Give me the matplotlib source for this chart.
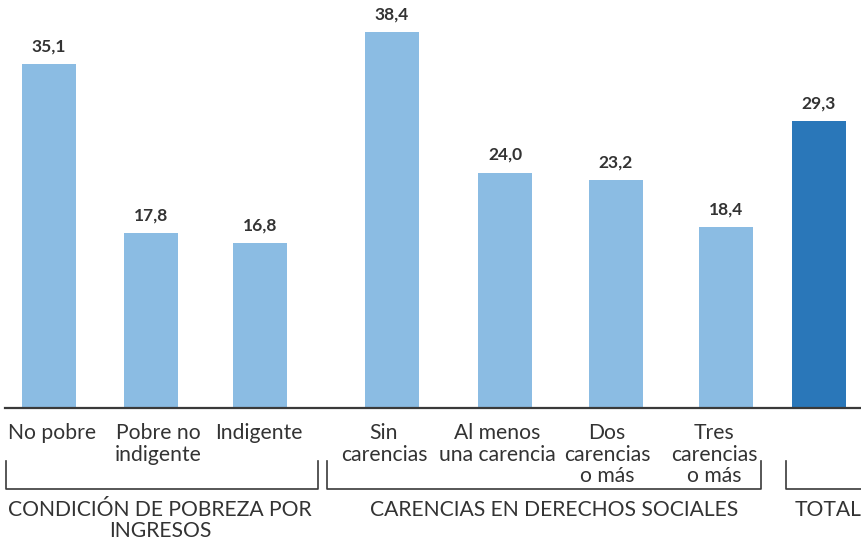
import matplotlib
matplotlib.use("Agg")
import matplotlib.pyplot as plt

categories = ["No pobre", "Pobre no\nindigente", "Indigente", "Sin\ncarencias",
              "Al menos\nuna carencia", "Dos\ncarencias\no más", "Tres\ncarencias\no más", ""]
values = [35.1, 17.8, 16.8, 38.4, 24.0, 23.2, 18.4, 29.3]
value_labels = ["35,1", "17,8", "16,8", "38,4", "24,0", "23,2", "18,4", "29,3"]
groups = ["CONDICIÓN DE POBREZA POR\nINGRESOS", "CARENCIAS EN DERECHOS SOCIALES", "TOTAL"]

# layout (pixel positions)
W, H = 862, 541
xpos = [49, 151, 260, 392, 505, 616, 726, 819]
label_x = [52, 158, 259, 384, 497, 607, 714, 819]
bar_w = 54
base_y = 407
px_per_unit = 9.766
group_spans = [(6, 318), (327, 761), (786, 875)]
group_label_x = [160, 554, 828]

light = "#8BBCE3"
dark = "#2A77B9"
txt = "#333333"
plt.rcParams['font.family'] = ['Lato', 'DejaVu Sans']

fig = plt.figure(figsize=(W / 100, H / 100), dpi=100)
ax = fig.add_axes([0, (H - base_y) / H, 1, base_y / H])
ax.set_xlim(0, W)
ax.set_ylim(0, base_y / px_per_unit)
colors = [light] * 7 + [dark]
ax.bar(xpos, values, width=bar_w, color=colors)
for x, v, lab in zip(xpos, values, value_labels):
    ax.text(x, v + 1.0, lab, ha="center", va="bottom", fontsize=12.5,
            fontweight="bold", color=txt)
ax.axis("off")

ov = fig.add_axes([0, 0, 1, 1], facecolor="none")
ov.set_xlim(0, W)
ov.set_ylim(H, 0)
ov.axis("off")
ov.plot([5, W], [base_y + 0.5, base_y + 0.5], color="#3a3a3a", lw=1.6)
for x, c in zip(label_x, categories):
    ov.text(x, 423, c, ha="center", va="top", fontsize=15.2, color=txt,
            linespacing=1.1, fontweight="normal")
for (x0, x1), gx, g in zip(group_spans, group_label_x, groups):
    ov.plot([x0, x0, x1, x1], [461, 489, 489, 461], color="#3a3a3a", lw=1.2,
            clip_on=False)
    ov.text(gx, 500, g, ha="center", va="top", fontsize=15.2, color=txt,
            linespacing=1.05, fontweight="normal")

fig.savefig("out.png", dpi=100)
